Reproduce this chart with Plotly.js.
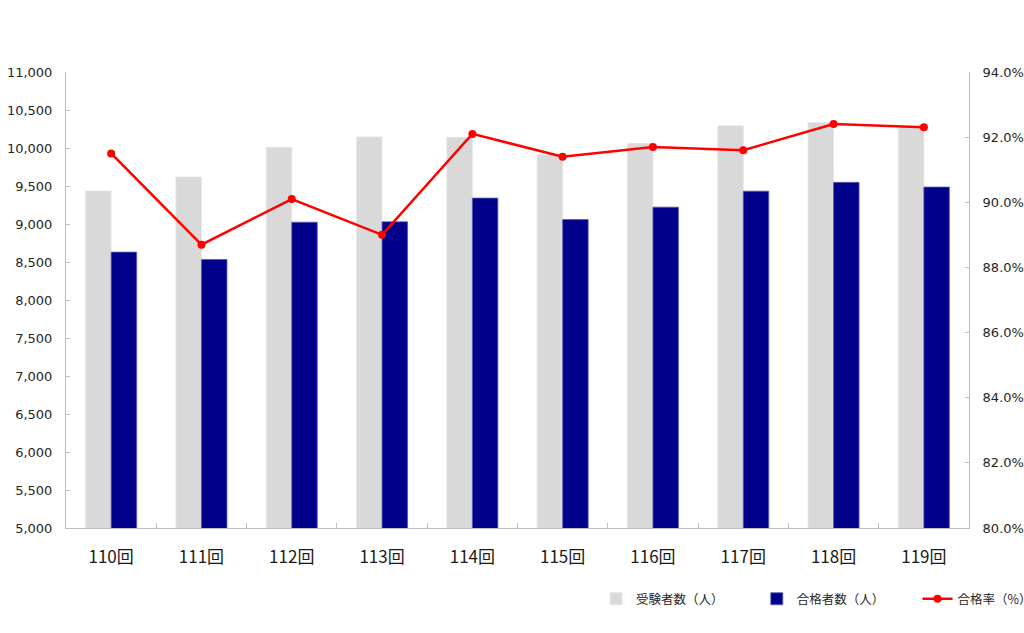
<!DOCTYPE html>
<html>
<head>
<meta charset="utf-8">
<script src="https://cdn.plot.ly/plotly-3.0.1.min.js"></script>
<style>
  html, body { margin: 0; padding: 0; background: #fff; }
  #chart { width: 1024px; height: 633px; }
</style>
</head>
<body>
<div id="chart"></div>
<script>
// 試験回ごとのデータ
const rounds = ['110回', '111回', '112回', '113回', '114回', '115回', '116回', '117回', '118回', '119回'];
const examinees = [9434, 9618, 10010, 10146, 10140, 9910, 10061, 10293, 10336, 10282];
const passed = [8630, 8533, 9024, 9029, 9341, 9058, 9222, 9432, 9548, 9486];
const passRate = [91.5, 88.7, 90.1, 89.0, 92.1, 91.4, 91.7, 91.6, 92.4, 92.3];

const axisGray = '#bfbfbf';
const numFont = { family: 'DejaVu Sans, Verdana, sans-serif', size: 13, color: '#262626' };
const jpFont = 'Noto Sans CJK JP, sans-serif';

const data = [
  {
    type: 'bar', x: rounds, y: examinees, name: '受験者数（人）', legend: 'legend',
    marker: { color: '#d9d9d9', line: { color: '#e4e4e4', width: 0.8 } }
  },
  {
    type: 'bar', x: rounds, y: passed, name: '合格者数（人）', legend: 'legend2',
    marker: { color: '#00008b', line: { color: '#5a5ab8', width: 0.8 } }
  },
  {
    type: 'scatter', mode: 'lines+markers', x: rounds, y: passRate, yaxis: 'y2',
    name: '合格率（%）', legend: 'legend3',
    line: { color: '#ff0000', width: 2.5 },
    marker: { color: '#ff0000', size: 8 }
  }
];

// 凡例は1項目ずつ横に並べる
function legendAt(x) {
  return {
    orientation: 'h', x: x, xanchor: 'left', y: -0.156, yanchor: 'middle',
    font: { family: jpFont, size: 12.5, color: '#262626' },
    itemwidth: 30, bgcolor: 'rgba(0,0,0,0)', borderwidth: 0
  };
}

const layout = {
  width: 1024, height: 633,
  margin: { l: 66, r: 55, t: 72, b: 105, autoexpand: false },
  paper_bgcolor: '#fff', plot_bgcolor: '#fff',
  barmode: 'group', bargap: 0.435, bargroupgap: 0,
  showlegend: true,
  legend: legendAt(0.587),
  legend2: legendAt(0.765),
  legend3: legendAt(0.943),
  xaxis: {
    range: [-0.5, rounds.length - 0.5],
    showline: true, linecolor: axisGray, linewidth: 1,
    ticks: 'inside', tickson: 'boundaries', ticklen: 5, tickcolor: axisGray,
    tickfont: { family: jpFont, size: 17, color: '#1a1a1a' },
    ticklabelstandoff: 14,
    showgrid: false, zeroline: false, fixedrange: true
  },
  yaxis: {
    range: [5000, 11000], dtick: 500, tickformat: ',d',
    showline: true, linecolor: axisGray, linewidth: 1,
    ticks: 'inside', ticklen: 4, tickcolor: axisGray,
    tickfont: numFont, ticklabelstandoff: 10,
    showgrid: false, zeroline: false
  },
  yaxis2: {
    overlaying: 'y', side: 'right',
    range: [80, 94], dtick: 2, tickformat: '.1f', ticksuffix: '%',
    showline: true, linecolor: axisGray, linewidth: 1,
    ticks: 'inside', ticklen: 4, tickcolor: axisGray,
    tickfont: numFont, ticklabelstandoff: 10,
    showgrid: false, zeroline: false
  }
};

Plotly.newPlot('chart', data, layout, { displayModeBar: false, staticPlot: true });
</script>
</body>
</html>
